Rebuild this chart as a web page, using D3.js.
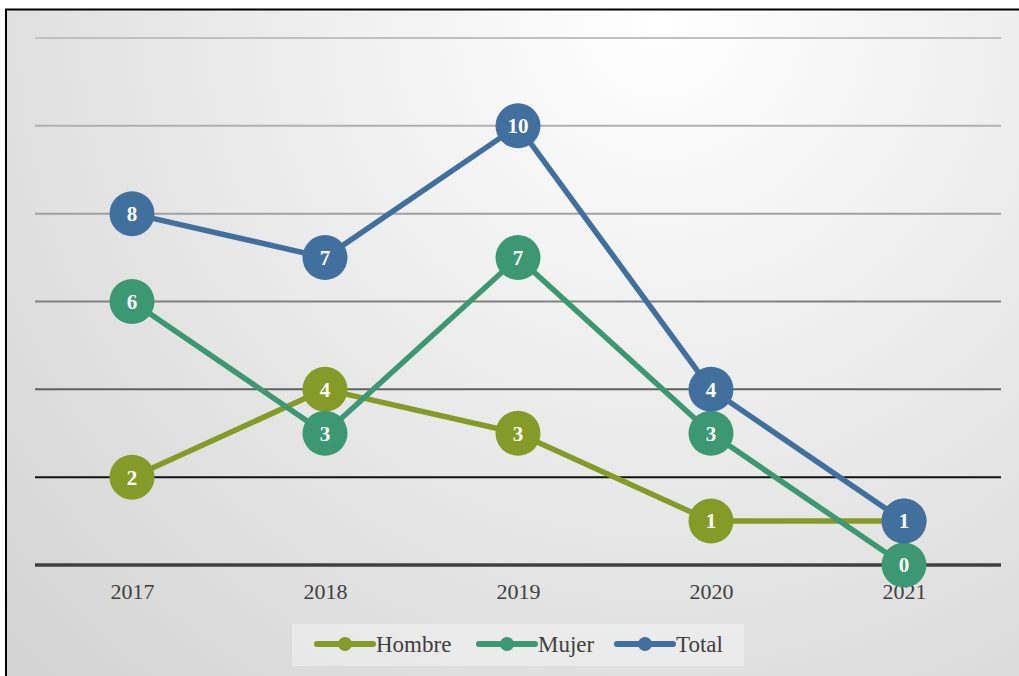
<!DOCTYPE html>
<html><head><meta charset="utf-8">
<script src="https://cdn.jsdelivr.net/npm/d3@7"></script>
<style>html,body{margin:0;padding:0;background:#fff;overflow:hidden}</style>
</head><body>
<svg id="c" width="1019" height="676"></svg>
<script>
const years = ["2017","2018","2019","2020","2021"];
const hombre = [2,4,3,1,1];
const mujer = [6,3,7,3,0];
const total = [8,7,10,4,1];
const seriesNames = ["Hombre","Mujer","Total"];
const seriesColors = ["#869b27","#3b9872","#416f9e"];
const gridTicks = [0,2,4,6,8,10,12];
const gridColors = ["#404040","#111111","#606060","#808080","#a0a0a0","#b0b0b0","#c0c0c0"];

const svg = d3.select("#c");
const defs = svg.append("defs");
const rg = defs.append("radialGradient").attr("id","bg")
  .attr("gradientUnits","userSpaceOnUse").attr("cx",660).attr("cy",20).attr("r",900);
rg.append("stop").attr("offset",0).attr("stop-color","#ffffff");
rg.append("stop").attr("offset",1).attr("stop-color","#d4d4d4");

svg.append("rect").attr("x",6).attr("y",10).attr("width",1013).attr("height",666).attr("fill","url(#bg)");
svg.append("line").attr("x1",5).attr("x2",1019).attr("y1",9.5).attr("y2",9.5).attr("stroke","#000").attr("stroke-width",2);
svg.append("line").attr("x1",6).attr("x2",6).attr("y1",9).attr("y2",676).attr("stroke","#000").attr("stroke-width",2);

const x = d3.scalePoint().domain(years).range([132,904]);
const y = d3.scaleLinear().domain([0,12]).range([565,38]);

// gridlines
svg.append("g").selectAll("line").data(gridTicks).join("line")
  .attr("x1",35).attr("x2",1001)
  .attr("y1",d=>y(d)).attr("y2",d=>y(d))
  .attr("stroke",(d,i)=>gridColors[i])
  .attr("stroke-width",d=>d===0?3.5:2);

// x axis labels
const xAxis = d3.axisBottom(x).tickSize(0).tickPadding(18);
const gx = svg.append("g").attr("transform",`translate(0,${y(0)})`).call(xAxis);
gx.select(".domain").remove();
gx.selectAll("text").attr("font-family","'Liberation Serif', serif").attr("font-size",22).attr("fill","#404040");

const data = [hombre, mujer, total];
const line = d3.line().x((d,i)=>x(years[i])).y(d=>y(d));

data.forEach((vals,si)=>{
  svg.append("path").datum(vals).attr("d",line).attr("fill","none")
    .attr("stroke",seriesColors[si]).attr("stroke-width",5.5).attr("stroke-linejoin","round");
});
data.forEach((vals,si)=>{
  const g = svg.append("g");
  g.selectAll("circle").data(vals).join("circle")
    .attr("cx",(d,i)=>x(years[i])).attr("cy",d=>y(d)).attr("r",22.5)
    .attr("fill",seriesColors[si]);
  g.selectAll("text").data(vals).join("text")
    .attr("x",(d,i)=>x(years[i])).attr("y",d=>y(d)).attr("dy","0.35em")
    .attr("text-anchor","middle").attr("font-family","'Liberation Serif', serif")
    .attr("font-weight","bold").attr("font-size",21).attr("fill","#fff").text(d=>d);
});

// legend
svg.append("rect").attr("x",292).attr("y",624).attr("width",452).attr("height",42)
  .attr("fill","#ffffff").attr("opacity",0.35);
const legX = [317,479,617];
seriesNames.forEach((n,i)=>{
  const g = svg.append("g").attr("transform",`translate(${legX[i]},644)`);
  g.append("line").attr("x1",0).attr("x2",56).attr("stroke",seriesColors[i]).attr("stroke-width",6).attr("stroke-linecap","round");
  g.append("circle").attr("cx",28).attr("r",7).attr("fill",seriesColors[i]);
  g.append("text").attr("x",59).attr("dy","0.35em").attr("font-family","'Liberation Serif', serif")
    .attr("font-size",23).attr("fill","#404040").text(n);
});
</script>
</body></html>
